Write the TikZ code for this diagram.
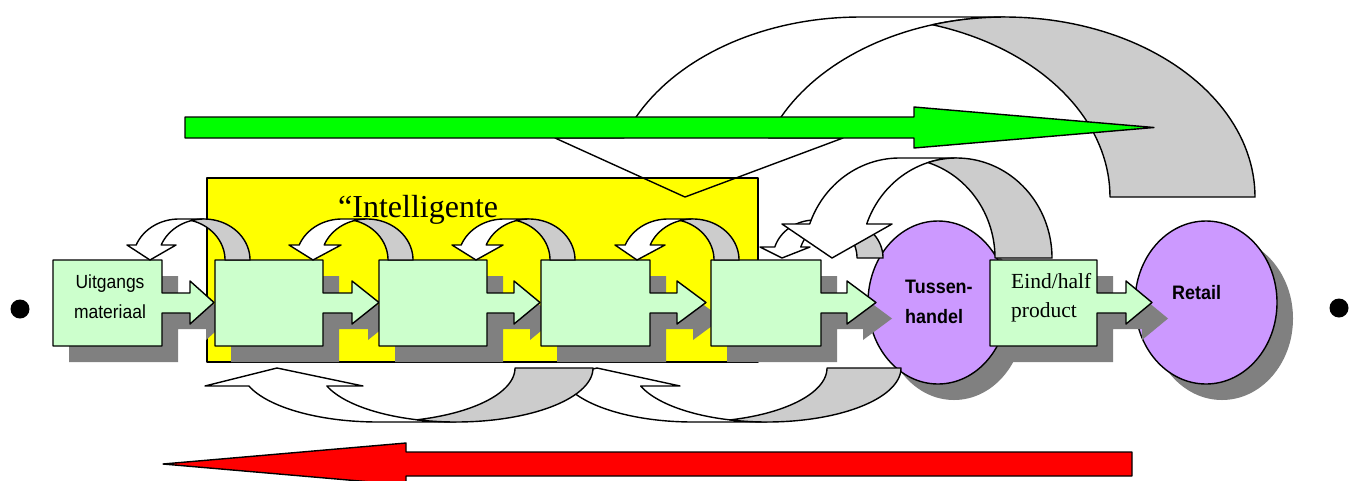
\documentclass[tikz,border=0pt]{standalone}
\usepackage{fontspec}
\setmainfont{Liberation Serif}
\newfontfamily\arialn[FakeStretch=0.92]{Liberation Sans}
\definecolor{boxgreen}{HTML}{CCFFCC}
\definecolor{lilac}{HTML}{CC99FF}
\definecolor{bandgray}{HTML}{CCCCCC}
\definecolor{shadowgray}{HTML}{808080}
\definecolor{arrgreen}{HTML}{00FF00}
\definecolor{arrred}{HTML}{FF0000}
\definecolor{yel}{HTML}{FFFF00}
\tikzset{
  outline/.style={draw=black, line width=1.4pt, line join=round},
  shadowfill/.style={fill=shadowgray},
  sanslabel/.style={font=\arialn\fontsize{19}{22}\selectfont, inner sep=0pt},
  sansbold/.style={font=\arialn\bfseries\fontsize{19.5}{22}\selectfont, inner sep=0pt},
  seriflabel/.style={font=\fontsize{21.5}{24}\selectfont, inner sep=0pt},
}
% curved arrow: W, base y, thickness, ellipse half width, height, dir, head height, wing left, wing right, tip x
\newcommand\curvarr[9]{\def\caW{#1}\def\caB{#2}\def\caTh{#3}\def\caR{#4}\def\caH{#5}\def\caD{#6}\def\caAh{#7}\def\caWl{#8}\def\caWr{#9}\curvarrB}
\newcommand\curvarrB[1]{%
  \pgfmathsetmacro\caCb{\caW-\caR}%
  \pgfmathsetmacro\caCa{\caW-\caR-\caTh}%
  \pgfmathsetmacro\caA{\caTh/(2*\caR)}%
  \pgfmathsetmacro\caTi{360-acos(-\caA)}%
  \pgfmathsetmacro\caTii{360-acos(\caA)}%
  \pgfmathsetmacro\caTn{180+asin(\caAh/\caH)}%
  \pgfmathsetmacro\caYa{\caB-\caD*\caAh}%
  \filldraw[outline, fill=white]
    plot[domain=\caTn:270, samples=40, variable=\t] ({\caCb+\caR*cos(\t)},{\caB+\caD*\caH*sin(\t)})
    -- plot[domain=270:\caTn, samples=40, variable=\t] ({\caCa+\caR*cos(\t)},{\caB+\caD*\caH*sin(\t)})
    -- (\caWl,\caYa) -- (#1,\caB) -- (\caWr,\caYa) -- cycle;
  \filldraw[outline, fill=bandgray]
    plot[domain=\caTii:360, samples=40, variable=\t] ({\caCa+\caR*cos(\t)},{\caB+\caD*\caH*sin(\t)})
    -- plot[domain=360:\caTi, samples=60, variable=\t] ({\caCb+\caR*cos(\t)},{\caB+\caD*\caH*sin(\t)})
    -- cycle;
}
% box with arrow: x0, x1, neck end, tip
\newcommand\calbox[4]{%
  \fill[shadowfill, shift={(16,16)}] (#1,260) -- (#2,260) -- (#2,293) -- (#3,293) -- (#3,281) -- (#4,302.5) -- (#3,324) -- (#3,313) -- (#2,313) -- (#2,346) -- (#1,346) -- cycle;
  \filldraw[outline, fill=boxgreen] (#1,260) -- (#2,260) -- (#2,293) -- (#3,293) -- (#3,281) -- (#4,302.5) -- (#3,324) -- (#3,313) -- (#2,313) -- (#2,346) -- (#1,346) -- cycle;
}
\begin{document}
\begin{tikzpicture}[x=1pt,y=-1pt]
\fill[white] (0,0) rectangle (1354,480);
\useasboundingbox (0,0) rectangle (1354,480);
\clip (0,0) rectangle (1354,480);

% big top curved arrow
\curvarr{1255}{197}{145}{250}{180}{1}{59}{555}{843}{685}

% green arrow
\filldraw[outline, fill=arrgreen] (185,117) -- (914,117) -- (914,107) -- (1154,127.5) -- (914,148) -- (914,138) -- (185,138) -- cycle;

% yellow field
\filldraw[outline, fill=yel] (207,178) rectangle (758,362);
\begin{scope}
  \clip (207,178) rectangle (758,362);
  \draw[outline] (555,138) -- (685,197) -- (843,138);
\end{scope}

% ellipses
\fill[shadowfill] (954,318.5) ellipse[x radius=70, y radius=81.5];
\filldraw[outline, fill=lilac] (938,302.5) ellipse[x radius=70, y radius=81.5];
\fill[shadowfill] (1222,318.5) ellipse[x radius=71, y radius=81.5];
\filldraw[outline, fill=lilac] (1206,302.5) ellipse[x radius=71, y radius=81.5];

% boxes
\calbox{53}{162}{190}{214}
\calbox{215}{323}{352}{379}
\calbox{379}{487}{514}{540}
\calbox{541}{650}{677}{706}
\calbox{711}{821}{847}{876}
\calbox{990}{1097}{1126}{1152}

% small curved arrows (top row)
\curvarr{250}{260}{25}{46}{41}{1}{15}{127}{176}{150}
\curvarr{413}{260}{25}{46}{41}{1}{15}{289}{341}{313}
\curvarr{575}{260}{25}{46}{41}{1}{15}{452}{503}{476}
\curvarr{739}{260}{25}{46}{41}{1}{15}{615}{665}{637}
\curvarr{883}{258}{26}{42}{38}{1}{11}{760}{810}{782}
\curvarr{1052}{258}{57}{95.5}{100}{1}{34}{782}{892}{832}

% bottom curved arrows
\curvarr{901}{368}{74}{134}{54}{-1}{18}{525}{680}{597}
\curvarr{593}{368}{78}{137}{54}{-1}{18}{205}{363}{277}

% red arrow
\filldraw[outline, fill=arrred] (1132,452) -- (406,452) -- (406,443) -- (163,464) -- (406,485) -- (406,476) -- (1132,476) -- cycle;

% texts
\node[anchor=base west, font=\fontsize{32}{38}\selectfont, inner sep=0pt] (intel) at (338,217) {“Intelligente};
\node[sanslabel, anchor=base] (uit1) at (110,288) {Uitgangs};
\node[sanslabel, anchor=base] (uit2) at (110,318) {materiaal};
\node[sansbold, anchor=base west] (tus1) at (905,293) {Tussen-};
\node[sansbold, anchor=base west] (tus2) at (905,323) {handel};
\node[sansbold, anchor=base west] (ret) at (1172,299) {Retail};
\node[seriflabel, anchor=base west] (eind1) at (1011,288) {Eind/half};
\node[seriflabel, anchor=base west] (eind2) at (1011,317) {product};

% bullets
\fill (20,309) circle[radius=9.5];
\fill (1339,308) circle[radius=9.5];
\end{tikzpicture}
\end{document}
